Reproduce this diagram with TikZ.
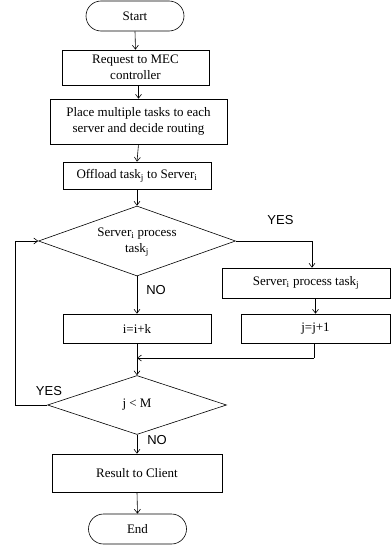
\documentclass[tikz,border=0pt]{standalone}
\usepackage{fontspec}
\setmainfont{Liberation Serif}
\newfontfamily\labfont{Liberation Sans}
\usetikzlibrary{arrows.meta,shapes.geometric,shapes.misc}
\begin{document}
\begin{tikzpicture}[x=1pt,y=-1pt,
  every node/.style={font=\fontsize{13}{16}\selectfont},
  box/.style={draw,rectangle,minimum width=#1,inner sep=0pt,align=center},
  term/.style={draw,rounded rectangle,minimum width=98pt,minimum height=30pt,inner sep=0pt},
  dec/.style={draw,diamond,inner sep=0pt,aspect=2.8},
  lab/.style={font=\labfont\fontsize{13}{15}\selectfont},
  conn/.style={line width=0.6pt,-{Straight Barb[length=4pt,width=6pt]}},
  line/.style={line width=0.6pt},
  line width=0.6pt]
\useasboundingbox (0,0) rectangle (391,546);
\node[term] (start) at (135,16) {Start};
\node[box=147pt,minimum height=35pt] (req) at (135.5,67.5) {Request to MEC\\controller};
\node[box=177pt,minimum height=45pt] (place) at (138.5,121.5) {Place multiple tasks to each\\server and decide routing};
\node[box=148pt,minimum height=27pt] (off) at (137,175.5) {Offload task$_\mathrm{j}$ to Server$_\mathrm{i}$};
\node[dec,minimum width=197pt,minimum height=70pt] (d1) at (137,241) {};
\node[align=center] (d1t) at (137,242) {Server$_\mathrm{i}$ process\\task$_\mathrm{j}$};
\node[box=168pt,minimum height=30pt] (srv) at (306,283) {Server$_\mathrm{i}$ process task$_\mathrm{j}$};
\node[box=149pt,minimum height=29pt] (jj) at (315.5,328.5) {j=j+1};
\node[box=148pt,minimum height=29pt] (ii) at (137,328.5) {i=i+k};
\node[dec,minimum width=179pt,minimum height=59pt] (d2) at (137,405) {j < M};
\node[box=170pt,minimum height=38pt] (res) at (137,473) {Result to Client};
\node[term] (end) at (137.5,529) {End};
\node[lab] (yes1) at (280.5,220) {YES};
\node[lab] (no1) at (156,290) {NO};
\node[lab] (yes2) at (49,391) {YES};
\node[lab] (no2) at (157,440) {NO};
\coordinate (c1) at (312,241);
\coordinate (c2) at (314,358);
\coordinate (c3) at (137,358);
\coordinate (c4) at (15,405);
\coordinate (c5) at (15,241);
\draw[conn] (start.south) -- (req.north);
\draw[conn] (req.south -| place.north) -- (place.north);
\draw[conn] (place.south) -- (off.north);
\draw[conn] (off.south) -- (d1.north);
\draw[conn] (d1.east) -- (c1) -- (c1 |- srv.north);
\draw[conn] (srv.south -| jj.north) -- (jj.north);
\draw[conn] (d1.south) -- (ii.north);
\draw[line] (c2 |- jj.south) -- (c2);
\draw[conn] (c2) -- (c3);
\draw[conn] (ii.south) -- (d2.north);
\draw[conn] (d2.west) -- (c4) -- (c5) -- (d1.west);
\draw[conn] (d2.south) -- (res.north);
\draw[conn] (res.south) -- (end.north);
\end{tikzpicture}
\end{document}
